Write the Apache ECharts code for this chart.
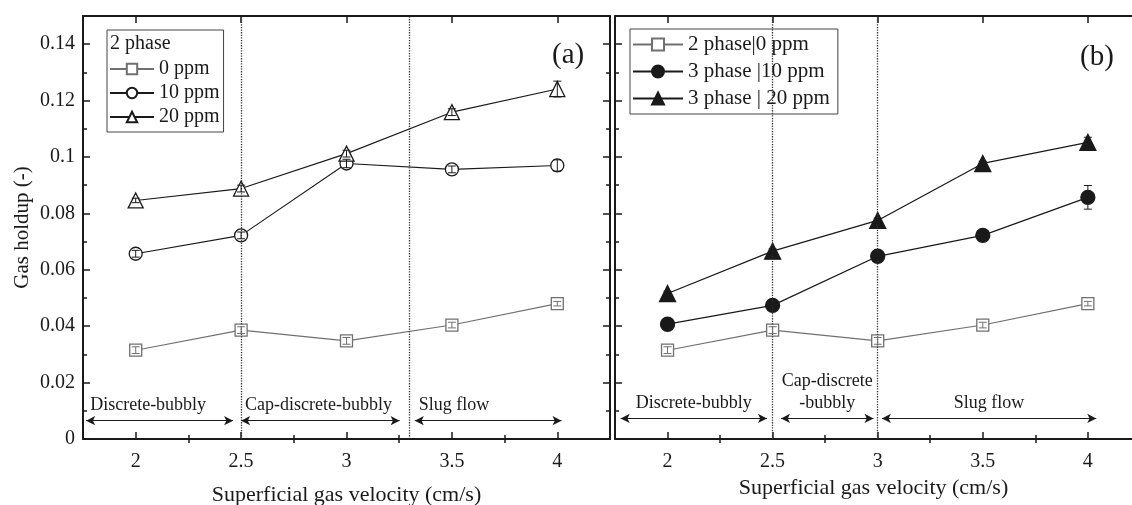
<!DOCTYPE html>
<html>
<head>
<meta charset="utf-8">
<script src="https://cdn.jsdelivr.net/npm/echarts@6/dist/echarts.min.js"></script>
<style>
  html, body { margin: 0; padding: 0; background: #fff; }
  #chart { width: 1132px; height: 505px; }
</style>
</head>
<body>
<div id="chart"></div>
<script>
// superficial gas velocity (cm/s)
const velocity = [2, 2.5, 3, 3.5, 4];

// gas holdup, panel (a): 2 phase
const holdup0ppm = [0.0315, 0.0386, 0.0348, 0.0404, 0.048];
const holdup10ppm = [0.0657, 0.0722, 0.0977, 0.0956, 0.097];
const holdup20ppm = [0.0846, 0.0888, 0.1012, 0.1159, 0.1241];
const err0ppm = [0.0012, 0.0012, 0.0012, 0.001, 0.0008];
const err10ppm = [0.0012, 0.0012, 0.0015, 0.0012, 0.002];
const err20ppm = [0.0008, 0.0012, 0.0012, 0.0012, 0.0028];

// gas holdup, panel (b): 3 phase
const holdup3p10ppm = [0.0407, 0.0474, 0.0648, 0.0722, 0.0857];
const holdup3p20ppm = [0.0516, 0.0666, 0.0775, 0.0977, 0.1052];
const err3p10ppm = [0.0008, 0.0008, 0.0008, 0.0008, 0.0042];
const err3p20ppm = [0.0008, 0.0008, 0.0008, 0.0008, 0.0018];

// axis ticks
const xMajor = [2, 2.5, 3, 3.5, 4];
const xMinor = [2.25, 2.75, 3.25, 3.75];
const yMajor = [0, 0.02, 0.04, 0.06, 0.08, 0.1, 0.12, 0.14];
const yMinor = [0.01, 0.03, 0.05, 0.07, 0.09, 0.11, 0.13];

// flow regime boundaries (dotted lines) and arrows
const boundariesA = [2.5, 3.3];
const boundariesB = [2.5, 3.0];
const regimesA = [
  { name: "Discrete-bubbly", from: 1.765, to: 2.462, y: 0.0065 },
  { name: "Cap-discrete-bubbly", from: 2.5, to: 3.252, y: 0.0065 },
  { name: "Slug flow", from: 3.324, to: 4.02, y: 0.0065 },
];
const regimesB = [
  { name: "Discrete-bubbly", from: 1.777, to: 2.473, y: 0.0073 },
  { name: "Cap-discrete\n-bubbly", from: 2.54, to: 2.98, y: 0.0073 },
  { name: "Slug flow", from: 3.02, to: 4.04, y: 0.0073 },
];

const FONT = "Liberation Serif";
const INK = "#1a1a1a";
const GREY = "#707070";

const chart = echarts.init(document.getElementById("chart"), null, { renderer: "canvas" });

const pairs = (ys) => velocity.map((x, i) => [x, ys[i]]);
const triples = (ys, es) => velocity.map((x, i) => [x, ys[i], es[i]]);

// panel (b) is cut off by the right edge of the picture, so its x range ends early
function xAxes(gridIndex, name, nameGap, xMax) {
  const base = {
    gridIndex, type: "value", min: 1.75, max: xMax,
    splitLine: { show: false },
    axisLine: { show: true, onZero: false, lineStyle: { color: INK, width: 2 } },
  };
  return [
    { ...base, position: "bottom", name, nameLocation: "middle", nameGap,
      nameTextStyle: { fontFamily: FONT, fontSize: 22, color: INK },
      axisTick: { inside: true, length: 7, customValues: xMajor, lineStyle: { color: INK, width: 1.5 } },
      axisLabel: { customValues: xMajor, margin: 13, fontFamily: FONT, fontSize: 20, color: INK } },
    { ...base, position: "bottom", axisLine: { show: false },
      axisTick: { inside: true, length: 4, customValues: xMinor, lineStyle: { color: INK, width: 1.5 } },
      axisLabel: { show: false } },
    { ...base, position: "top",
      axisTick: { inside: true, length: 7, customValues: xMajor, lineStyle: { color: INK, width: 1.5 } },
      axisLabel: { show: false } },
    { ...base, position: "top", axisLine: { show: false },
      axisTick: { inside: true, length: 4, customValues: xMinor, lineStyle: { color: INK, width: 1.5 } },
      axisLabel: { show: false } },
  ];
}

function yAxes(gridIndex, name, showLabels, showRight) {
  const base = {
    gridIndex, type: "value", min: 0, max: 0.15,
    splitLine: { show: false },
    axisLine: { show: true, onZero: false, lineStyle: { color: INK, width: 2 } },
  };
  return [
    { ...base, position: "left", name, nameLocation: "middle", nameGap: 50,
      nameTextStyle: { fontFamily: FONT, fontSize: 21, color: INK },
      axisTick: { inside: true, length: 7, customValues: yMajor, lineStyle: { color: INK, width: 1.5 } },
      axisLabel: { show: showLabels, customValues: yMajor, margin: 8, fontFamily: FONT, fontSize: 20, color: INK } },
    { ...base, position: "left", axisLine: { show: false },
      axisTick: { inside: true, length: 4, customValues: yMinor, lineStyle: { color: INK, width: 1.5 } },
      axisLabel: { show: false } },
    { ...base, position: "right", show: showRight,
      axisTick: { inside: true, length: 7, customValues: yMajor, lineStyle: { color: INK, width: 1.5 } },
      axisLabel: { show: false } },
    { ...base, position: "right", show: showRight, axisLine: { show: false },
      axisTick: { inside: true, length: 4, customValues: yMinor, lineStyle: { color: INK, width: 1.5 } },
      axisLabel: { show: false } },
  ];
}

function lineSeries(name, ys, axisIdx, symbol, size, color, filled, lineWidth) {
  return {
    name, type: "line", data: pairs(ys),
    xAxisIndex: axisIdx, yAxisIndex: axisIdx,
    symbol, symbolSize: size, showAllSymbol: true,
    lineStyle: { color, width: lineWidth },
    itemStyle: { color: filled ? color : "#fff", borderColor: color, borderWidth: 1.3 },
    z: 3, animation: false,
  };
}

function errorSeries(ys, es, axisIdx, color) {
  return {
    type: "custom", data: triples(ys, es),
    xAxisIndex: axisIdx, yAxisIndex: axisIdx, z: 5, silent: true, animation: false,
    renderItem(params, api) {
      const x = api.value(0), y = api.value(1), e = api.value(2);
      const hi = api.coord([x, y + e]);
      const lo = api.coord([x, y - e]);
      const w = 4;
      const st = { stroke: color, lineWidth: 1 };
      return {
        type: "group",
        children: [
          { type: "line", shape: { x1: hi[0], y1: hi[1], x2: lo[0], y2: lo[1] }, style: st },
          { type: "line", shape: { x1: hi[0] - w, y1: hi[1], x2: hi[0] + w, y2: hi[1] }, style: st },
          { type: "line", shape: { x1: lo[0] - w, y1: lo[1], x2: lo[0] + w, y2: lo[1] }, style: st },
        ],
      };
    },
  };
}

function boundaryLines(values) {
  return {
    silent: true, symbol: "none", animation: false,
    label: { show: false },
    lineStyle: { type: "dotted", color: "#333", width: 1.3 },
    data: values.map((v) => ({ xAxis: v })),
  };
}

function regimeArrows(regimes, labelPos) {
  return {
    silent: true, symbol: ["arrow", "arrow"], symbolSize: [7, 9], animation: false,
    lineStyle: { type: "solid", color: INK, width: 1.2 },
    label: {
      show: true, position: labelPos, formatter: "{b}", distance: 4,
      fontFamily: FONT, fontSize: 18, color: INK, lineHeight: 22,
    },
    data: regimes.map((r) => [
      { name: r.name, coord: [r.from, r.y] },
      { coord: [r.to, r.y] },
    ]),
  };
}

const sA0 = lineSeries("0 ppm", holdup0ppm, 0, "rect", 12, GREY, false, 1.1);
sA0.markLine = boundaryLines(boundariesA);
const sA10 = lineSeries("10 ppm", holdup10ppm, 0, "circle", 13, INK, false, 1.1);
sA10.markLine = regimeArrows(regimesA, "insideStartTop");
const sA20 = lineSeries("20 ppm", holdup20ppm, 0, "triangle", 15, INK, false, 1.1);

const sB0 = lineSeries("2 phase|0 ppm", holdup0ppm, 4, "rect", 12, GREY, false, 1.1);
sB0.markLine = boundaryLines(boundariesB);
const sB10 = lineSeries("3 phase |10 ppm", holdup3p10ppm, 4, "circle", 14, INK, true, 1.3);
sB10.markLine = regimeArrows(regimesB, "insideMiddleTop");
const sB20 = lineSeries("3 phase | 20 ppm", holdup3p20ppm, 4, "triangle", 16, INK, true, 1.3);

const legendText = (size) => ({ fontFamily: FONT, fontSize: size, color: INK });

const option = {
  backgroundColor: "#fff",
  animation: false,
  grid: [
    { left: 83, top: 16, width: 527, height: 423, containLabel: false, outerBoundsMode: "none" },
    { left: 615, top: 16, width: 517, height: 423, containLabel: false, outerBoundsMode: "none" },
  ],
  xAxis: [
    ...xAxes(0, "Superficial gas velocity (cm/s)", 45, 4.25),
    ...xAxes(1, "Superficial gas velocity (cm/s)", 31, 4.21),
  ],
  yAxis: [...yAxes(0, "Gas holdup (-)", true, true), ...yAxes(1, "", false, false)],
  title: [
    { text: "(a)", left: 547, top: 36, textStyle: { fontFamily: FONT, fontSize: 29, fontWeight: "normal", color: INK } },
    { text: "(b)", left: 1075, top: 38, textStyle: { fontFamily: FONT, fontSize: 29, fontWeight: "normal", color: INK } },
  ],
  legend: [
    {
      data: ["0 ppm", "10 ppm", "20 ppm"],
      orient: "vertical", left: 107, top: 30,
      padding: [29, 4, 5, 2], itemGap: 4, itemWidth: 44, itemHeight: 13,
      borderColor: "#444", borderWidth: 1, borderRadius: 0,
      textStyle: legendText(20), selectedMode: false,
    },
    {
      data: ["2 phase|0 ppm", "3 phase |10 ppm", "3 phase | 20 ppm"],
      orient: "vertical", left: 630, top: 29,
      padding: [5, 8, 5, 2], itemGap: 6, itemWidth: 50, itemHeight: 15,
      borderColor: "#444", borderWidth: 1, borderRadius: 0,
      textStyle: legendText(21), selectedMode: false,
    },
  ],
  graphic: [
    { type: "text", left: 110, top: 34, style: { text: "2 phase", fontFamily: FONT, fontSize: 20, fill: INK } },
  ],
  series: [
    sA0, sA10, sA20,
    errorSeries(holdup0ppm, err0ppm, 0, GREY),
    errorSeries(holdup10ppm, err10ppm, 0, INK),
    errorSeries(holdup20ppm, err20ppm, 0, INK),
    sB0, sB10, sB20,
    errorSeries(holdup0ppm, err0ppm, 4, GREY),
    errorSeries(holdup3p10ppm, err3p10ppm, 4, INK),
    errorSeries(holdup3p20ppm, err3p20ppm, 4, INK),
  ],
};

chart.setOption(option);
</script>
</body>
</html>
